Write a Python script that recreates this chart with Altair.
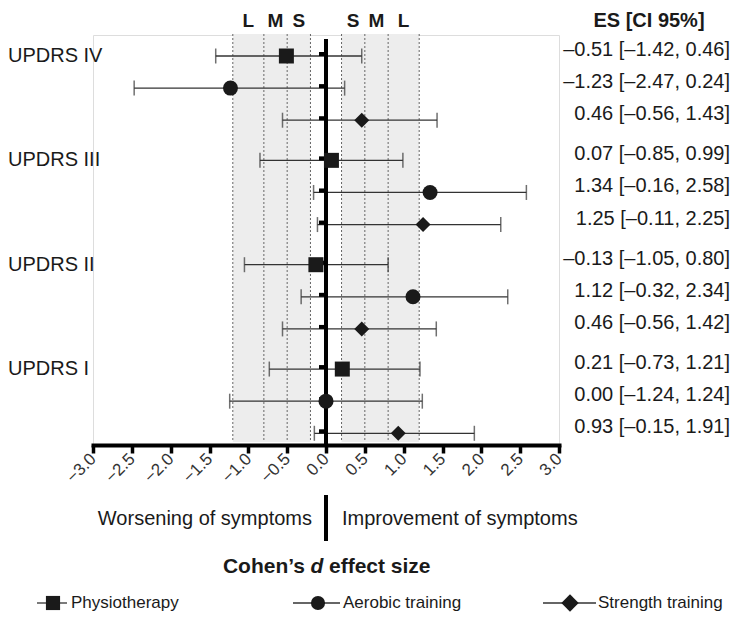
import altair as alt
import pandas as pd

# ---------------- data ----------------
outcomes = ["UPDRS IV", "UPDRS III", "UPDRS II", "UPDRS I"]
series = ["Physiotherapy", "Aerobic training", "Strength training"]
es = [-0.51, -1.23, 0.46, 0.07, 1.34, 1.25, -0.13, 1.12, 0.46, 0.21, 0.00, 0.93]
ci_lo = [-1.42, -2.47, -0.56, -0.85, -0.16, -0.11, -1.05, -0.32, -0.56, -0.73, -1.24, -0.15]
ci_hi = [0.46, 0.24, 1.43, 0.99, 2.58, 2.25, 0.80, 2.34, 1.42, 1.21, 1.24, 1.91]
thresholds = [0.2, 0.5, 0.8, 1.2]
zone_names = ["S", "M", "L"]
x_ticks = [-3.0, -2.5, -2.0, -1.5, -1.0, -0.5, 0.0, 0.5, 1.0, 1.5, 2.0, 2.5, 3.0]

FONT = "Liberation Sans"
INK = "#1a1a1a"


def fmt(v):
    return f"{v:.2f}".replace("-", "\u2013")


rows = []
k = 0
for g, oc in enumerate(outcomes):
    for i, s in enumerate(series):
        rows.append(dict(outcome=oc, series=s, es=es[k], lo=ci_lo[k], hi=ci_hi[k],
                         pos=3 * g + i + 0.25 * g,
                         label=f"{fmt(es[k])} [{fmt(ci_lo[k])}, {fmt(ci_hi[k])}]"))
        k += 1
df = pd.DataFrame(rows)
groups = df.groupby("outcome", sort=False).first().reset_index()
one = pd.DataFrame({"z": [0.0]})

zones = pd.DataFrame({"lo": [-thresholds[-1], thresholds[0]], "hi": [-thresholds[0], thresholds[-1]]})
lines = pd.DataFrame({"x": [-t for t in thresholds] + thresholds})
mids = [(thresholds[j] + thresholds[j + 1]) / 2 for j in range(3)]
zlab = pd.DataFrame({"x": [-m for m in mids] + mids, "t": zone_names + zone_names})

W, H = 466, 410
xscale = alt.Scale(domain=[-3, 3], nice=False, zero=False)
yscale = alt.Scale(domain=[-0.654, 12.115], nice=False, zero=False, reverse=True)
xaxis = alt.Axis(values=x_ticks, labelExpr="replace(format(datum.value, '.1f'), '-', '\u2013')",
                 grid=False, title=None, domainWidth=4, domainColor="black", domainCap="square",
                 tickWidth=3.5, tickSize=8, tickColor="black", labelAngle=315, labelAlign="right",
                 labelBaseline="middle", labelPadding=3, labelFontSize=17, labelColor="#333",
                 labelFont=FONT, labelOverlap=False, labelBound=False, labelFlush=False)


def X(f):
    return alt.X(f, type="quantitative", scale=xscale, axis=xaxis)


def XD(v):
    return alt.XDatum(v, type="quantitative", scale=xscale, axis=xaxis)


def Y(f):
    return alt.Y(f, type="quantitative", scale=yscale, axis=None)


zone_rect = alt.Chart(zones).mark_rect(fill="#ededed").encode(
    x=X("lo"), x2="hi", y=alt.value(-1), y2=alt.value(407))
zone_lines = alt.Chart(lines).mark_rule(color="#666", strokeWidth=1, strokeDash=[2, 2]).encode(
    x=X("x"), y=alt.value(-1), y2=alt.value(407))
zone_text = alt.Chart(zlab).mark_text(font=FONT, fontSize=19, fontWeight="bold", color=INK,
                                      align="center", baseline="alphabetic").encode(
    x=X("x"), y=alt.value(-8), text="t:N")

bars = alt.Chart(df).mark_rule(color="#333", strokeWidth=1.3).encode(x=X("lo"), x2="hi", y=Y("pos"))
cap_lo = alt.Chart(df).mark_tick(color="#333", orient="vertical", size=15, thickness=1.5).encode(
    x=X("lo"), y=Y("pos"))
cap_hi = alt.Chart(df).mark_tick(color="#333", orient="vertical", size=15, thickness=1.5).encode(
    x=X("hi"), y=Y("pos"))
zero = alt.Chart(one).mark_rule(color="black", strokeWidth=4).encode(
    x=X("z"), y=alt.value(4), y2=alt.value(410))
tabs = alt.Chart(df).mark_rule(color="black", strokeWidth=4, yOffset=-2).encode(
    x=XD(-0.09), x2=alt.X2Datum(0), y=Y("pos"))

shape_scale = alt.Scale(domain=series, range=["square", "circle", "diamond"])
size_scale = alt.Scale(domain=series, range=[225, 225, 330])
points = alt.Chart(df).mark_point(filled=True, opacity=1, color=INK).encode(
    x=X("es"), y=Y("pos"),
    shape=alt.Shape("series:N", scale=shape_scale, legend=None),
    size=alt.Size("series:N", scale=size_scale, legend=None))

left_lab = alt.Chart(groups).mark_text(font=FONT, fontSize=20, color=INK, align="left",
                                       baseline="middle").encode(
    x=alt.value(-85), y=Y("pos"), text="outcome:N")
right_lab = alt.Chart(df).mark_text(font=FONT, fontSize=20, color=INK, align="right",
                                    baseline="alphabetic").encode(
    x=alt.value(637), y=Y("pos"), text="label:N")
header = alt.Chart(one).mark_text(font=FONT, fontSize=20, fontWeight="bold", color=INK,
                                  align="center", baseline="alphabetic", text="ES [CI 95%]").encode(
    x=alt.value(556), y=alt.value(-8))

worse = alt.Chart(one).mark_text(font=FONT, fontSize=20, color=INK, align="right",
                                 baseline="alphabetic", text="Worsening of symptoms").encode(
    x=alt.value(219), y=alt.value(490))
better = alt.Chart(one).mark_text(font=FONT, fontSize=20, color=INK, align="left",
                                  baseline="alphabetic", text="Improvement of symptoms").encode(
    x=alt.value(249), y=alt.value(490))
divider = alt.Chart(one).mark_rule(color="black", strokeWidth=4).encode(
    x=X("z"), y=alt.value(460), y2=alt.value(506))

t1 = alt.Chart(one).mark_text(font=FONT, fontSize=21, fontWeight="bold", color=INK, align="right",
                              baseline="alphabetic", text="Cohen\u2019s").encode(
    x=alt.value(212), y=alt.value(538))
t2 = alt.Chart(one).mark_text(font=FONT, fontSize=21, fontWeight="bold", fontStyle="italic",
                              color=INK, align="center", baseline="alphabetic", text="d").encode(
    x=alt.value(224), y=alt.value(538))
t3 = alt.Chart(one).mark_text(font=FONT, fontSize=21, fontWeight="bold", color=INK, align="left",
                              baseline="alphabetic", text="effect size").encode(
    x=alt.value(236), y=alt.value(538))

# legend (drawn manually)
leg_layers = []
leg_line_x = [(-56, -26), (200, 247), (450, 503)]
leg_sym_x = [-40, 225, 477]
leg_txt_x = [-22, 250, 505]
shapes = ["square", "circle", "diamond"]
sizes = [200, 200, 300]
LY = 568
for j, s in enumerate(series):
    leg_layers.append(alt.Chart(one).mark_rule(color="#333", strokeWidth=1.3).encode(
        x=alt.value(leg_line_x[j][0]), x2=alt.value(leg_line_x[j][1]), y=alt.value(LY)))
    leg_layers.append(alt.Chart(one).mark_point(filled=True, opacity=1, color=INK,
                                                shape=shapes[j], size=sizes[j]).encode(
        x=alt.value(leg_sym_x[j]), y=alt.value(LY)))
    leg_layers.append(alt.Chart(one).mark_text(font=FONT, fontSize=17, color=INK, align="left",
                                               baseline="middle", text=s).encode(
        x=alt.value(leg_txt_x[j]), y=alt.value(LY)))

chart = alt.layer(
    zone_rect, zone_lines, zone_text, bars, cap_lo, cap_hi, zero, tabs, points,
    left_lab, right_lab, header, worse, better, divider, t1, t2, t3, *leg_layers
).properties(
    width=W, height=H,
    autosize=alt.AutoSizeParams(type="none"),
    padding={"left": 85, "top": 27, "right": 172, "bottom": 176},
).configure_view(strokeWidth=0).configure_axis(labelOverlap=False).configure(background="white")

chart.save("out.html", embed_options={"renderer": "svg", "actions": False})
